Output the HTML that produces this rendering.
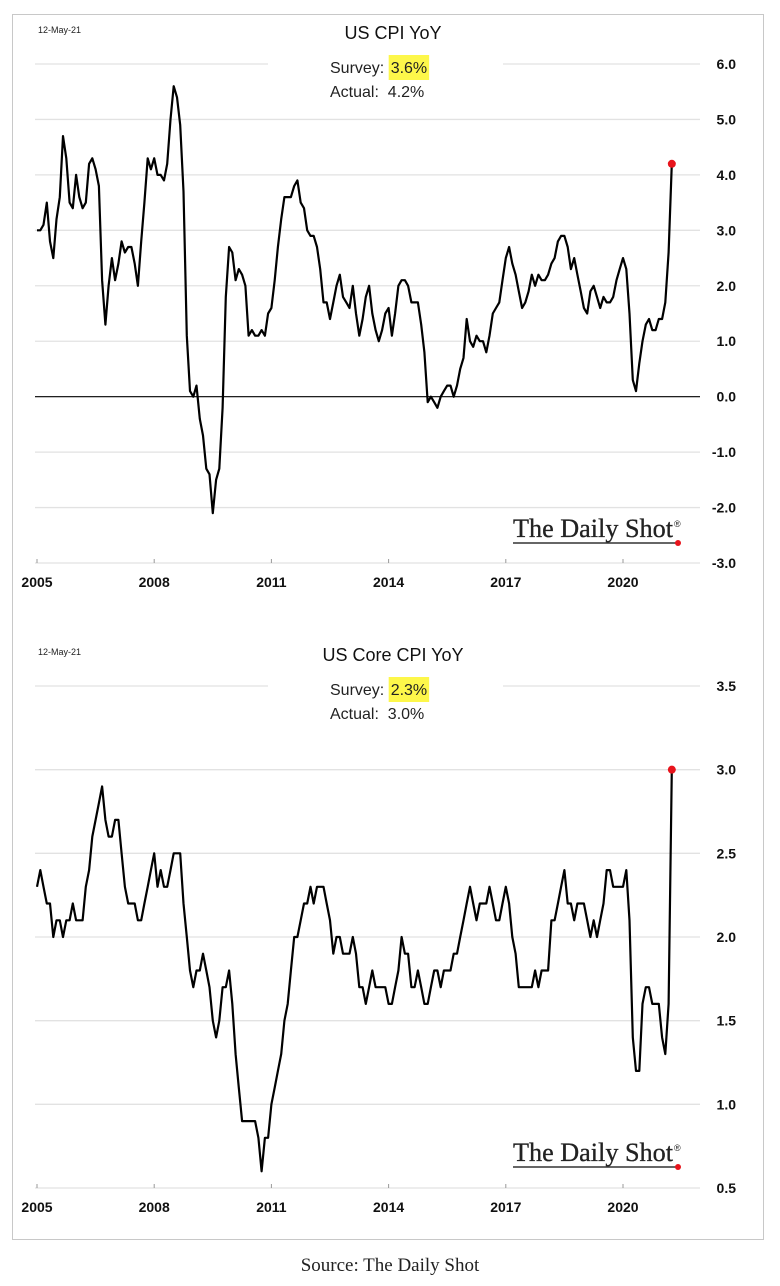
<!DOCTYPE html>
<html><head><meta charset="utf-8"><style>
body{margin:0;background:#fff;width:780px;height:1286px;overflow:hidden;font-family:"Liberation Sans",sans-serif}
#frame{position:absolute;left:12px;top:14px;width:752px;height:1226px;border:1px solid #c8c8c8;box-sizing:border-box}
#src{position:absolute;left:0;width:780px;top:1255px;text-align:center;font-family:"Liberation Serif",serif;font-size:19px;color:#222}
</style></head><body>
<div id="frame"></div>
<svg id="svg" width="780" height="1286" style="position:absolute;left:0;top:0"></svg>
<div id="src">Source: The Daily Shot</div>
<script>
const years=[2005,2008,2011,2014,2017,2020];
const cpiTicks=[6,5,4,3,2,1,0,-1,-2,-3];
const coreTicks=[3.5,3.0,2.5,2.0,1.5,1.0,0.5];
const cpi=[3.0,3.0,3.1,3.5,2.8,2.5,3.2,3.6,4.7,4.3,3.5,3.4,
4.0,3.6,3.4,3.5,4.2,4.3,4.1,3.8,2.1,1.3,2.0,2.5,
2.1,2.4,2.8,2.6,2.7,2.7,2.4,2.0,2.8,3.5,4.3,4.1,
4.3,4.0,4.0,3.9,4.2,5.0,5.6,5.4,4.9,3.7,1.1,0.1,
0.0,0.2,-0.4,-0.7,-1.3,-1.4,-2.1,-1.5,-1.3,-0.2,1.8,2.7,
2.6,2.1,2.3,2.2,2.0,1.1,1.2,1.1,1.1,1.2,1.1,1.5,
1.6,2.1,2.7,3.2,3.6,3.6,3.6,3.8,3.9,3.5,3.4,3.0,
2.9,2.9,2.7,2.3,1.7,1.7,1.4,1.7,2.0,2.2,1.8,1.7,
1.6,2.0,1.5,1.1,1.4,1.8,2.0,1.5,1.2,1.0,1.2,1.5,
1.6,1.1,1.5,2.0,2.1,2.1,2.0,1.7,1.7,1.7,1.3,0.8,
-0.1,0.0,-0.1,-0.2,0.0,0.1,0.2,0.2,0.0,0.2,0.5,0.7,
1.4,1.0,0.9,1.1,1.0,1.0,0.8,1.1,1.5,1.6,1.7,2.1,
2.5,2.7,2.4,2.2,1.9,1.6,1.7,1.9,2.2,2.0,2.2,2.1,
2.1,2.2,2.4,2.5,2.8,2.9,2.9,2.7,2.3,2.5,2.2,1.9,
1.6,1.5,1.9,2.0,1.8,1.6,1.8,1.7,1.7,1.8,2.1,2.3,
2.5,2.3,1.5,0.3,0.1,0.6,1.0,1.3,1.4,1.2,1.2,1.4,
1.4,1.7,2.6,4.2];
const core=[2.3,2.4,2.3,2.2,2.2,2.0,2.1,2.1,2.0,2.1,2.1,2.2,
2.1,2.1,2.1,2.3,2.4,2.6,2.7,2.8,2.9,2.7,2.6,2.6,
2.7,2.7,2.5,2.3,2.2,2.2,2.2,2.1,2.1,2.2,2.3,2.4,
2.5,2.3,2.4,2.3,2.3,2.4,2.5,2.5,2.5,2.2,2.0,1.8,
1.7,1.8,1.8,1.9,1.8,1.7,1.5,1.4,1.5,1.7,1.7,1.8,
1.6,1.3,1.1,0.9,0.9,0.9,0.9,0.9,0.8,0.6,0.8,0.8,
1.0,1.1,1.2,1.3,1.5,1.6,1.8,2.0,2.0,2.1,2.2,2.2,
2.3,2.2,2.3,2.3,2.3,2.2,2.1,1.9,2.0,2.0,1.9,1.9,
1.9,2.0,1.9,1.7,1.7,1.6,1.7,1.8,1.7,1.7,1.7,1.7,
1.6,1.6,1.7,1.8,2.0,1.9,1.9,1.7,1.7,1.8,1.7,1.6,
1.6,1.7,1.8,1.8,1.7,1.8,1.8,1.8,1.9,1.9,2.0,2.1,
2.2,2.3,2.2,2.1,2.2,2.2,2.2,2.3,2.2,2.1,2.1,2.2,
2.3,2.2,2.0,1.9,1.7,1.7,1.7,1.7,1.7,1.8,1.7,1.8,
1.8,1.8,2.1,2.1,2.2,2.3,2.4,2.2,2.2,2.1,2.2,2.2,
2.2,2.1,2.0,2.1,2.0,2.1,2.2,2.4,2.4,2.3,2.3,2.3,
2.3,2.4,2.1,1.4,1.2,1.2,1.6,1.7,1.7,1.6,1.6,1.6,
1.4,1.3,1.6,3.0];
const svg=document.getElementById('svg');
const NS='http://www.w3.org/2000/svg';
function mk(tag,at,parent){const e=document.createElementNS(NS,tag);for(const k in at)e.setAttribute(k,at[k]);(parent||svg).appendChild(e);return e;}
const x=i=>37+i*(586/180);
const yx=yr=>37+(yr-2005)*(586/15);
function chart(cfg){
  const y=v=>cfg.y0+(cfg.top-v)*cfg.k;
  const g=mk('g',{});
  
  
  cfg.ticks.forEach(t=>{
    const ln=mk('line',{x1:35,x2:700,y1:y(t),y2:y(t),stroke:(t===0&&cfg.zero)?'#000':'#e2e2e2','stroke-width':(t===0&&cfg.zero)?1.2:1.3},g);
    
    
    const tx=mk('text',{x:736,y:y(t)+5,'text-anchor':'end','font-size':14,'font-weight':'bold',fill:'#111'},g);
    tx.textContent=t.toFixed(1);
    
    
  });
  const bot=y(cfg.ticks[cfg.ticks.length-1]);
  years.forEach(yr=>{
    mk('line',{x1:yx(yr),x2:yx(yr),y1:bot-4,y2:bot,stroke:'#999'},g);
    const tx=mk('text',{x:yx(yr),y:bot+24,'text-anchor':'middle','font-size':14,'font-weight':'bold',fill:'#111'},g);
    tx.textContent=yr;
    
    
  });
  mk('rect',{x:268,y:cfg.boxY,width:235,height:cfg.boxH,fill:'#fff'},g);
  const d=cfg.data.map((v,i)=>(i?'L':'M')+x(i).toFixed(1)+','+y(v).toFixed(1)).join('');
  const p=mk('path',{d:d,fill:'none',stroke:'#000','stroke-width':2.2,'stroke-linejoin':'round'},g);
  
  
  const n=cfg.data.length-1;
  const c=mk('circle',{cx:x(n),cy:y(cfg.data[n]),r:4,fill:'#e8141c'},g);
  
  
  const T=cfg.T;
  const dt=mk('text',{x:38,y:T+10,'font-size':9,fill:'#222'},g);dt.textContent='12-May-21';
  
  const tt=mk('text',{x:393,y:T+16,'text-anchor':'middle','font-size':18,fill:'#111'},g);tt.textContent=cfg.title;
  
  const hl=mk('rect',{x:398,y:T+32,width:46,height:25,fill:'#fdf74a'},g);
  const s=mk('text',{x:330,y:T+50,'font-size':16,fill:'#222'},g);s.textContent='Survey:\u00a0';
  
  const w=s.getComputedTextLength();
  const sv=mk('text',{x:330+w+2,y:T+50,'font-size':16,fill:'#222'},g);sv.textContent=cfg.survey;
  
  hl.setAttribute('x',330+w);hl.setAttribute('width',sv.getComputedTextLength()+4);
  const a=mk('text',{x:330,y:T+74,'font-size':16,fill:'#222'},g);a.textContent='Actual:\u00a0\u00a0'+cfg.actual;
  
  const L=cfg.logoY;
  const lg=mk('text',{x:513,y:L,'font-size':26,'font-family':'Liberation Serif,serif',fill:'#222',stroke:'#222','stroke-width':0.3,textLength:160,lengthAdjust:'spacingAndGlyphs'},g);lg.textContent='The Daily Shot';
  
  mk('text',{x:674,y:L-10,'font-size':9,fill:'#222'},g).textContent='®';
  mk('line',{x1:513,x2:677,y1:L+6,y2:L+6,stroke:'#333','stroke-width':1.5},g);
  mk('circle',{cx:678,cy:L+6,r:3,fill:'#e8141c'},g);
}
chart({name:'us-cpi-chart',data:cpi,ticks:cpiTicks,top:6,y0:64,k:(563-64)/9,zero:true,T:23,title:'US CPI YoY',survey:'3.6%',actual:'4.2%',logoY:537,boxY:52,boxH:56});
chart({name:'us-core-cpi-chart',data:core,ticks:coreTicks,top:3.5,y0:686,k:(1188-686)/3,zero:false,T:645,title:'US Core CPI YoY',survey:'2.3%',actual:'3.0%',logoY:1161,boxY:676,boxH:20});
</script>
</body></html>
